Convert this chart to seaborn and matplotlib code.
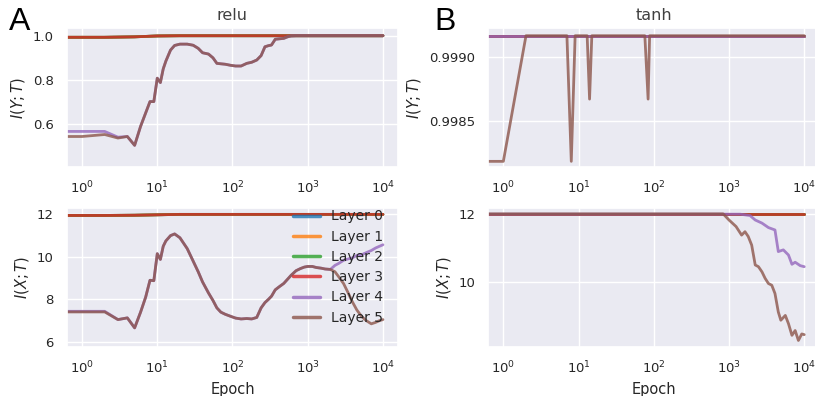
import numpy as np
import pandas as pd
import matplotlib
matplotlib.use("Agg")
import matplotlib.pyplot as plt
import seaborn as sns

# ---------------- data ----------------
LAYERS = ["Layer 0", "Layer 1", "Layer 2", "Layer 3", "Layer 4", "Layer 5"]

# relu: epochs at which layers 4/5 were measured
RELU_EPOCHS = [0, 1, 2, 3, 4, 5, 6, 7, 8, 9, 10, 11, 12, 13, 15, 17, 20, 25, 30, 35,
               40, 48, 55, 62, 70, 80, 95, 110, 130, 155, 180, 210, 240, 270, 300,
               330, 370, 420, 480, 540, 600, 700, 800, 900, 1000, 1150, 1300, 1500,
               1700, 2000, 2300, 2600, 3000, 3400, 3900, 4500, 5200, 6000, 7000,
               8000, 9000, 10000]

RELU_IYT_L5 = [0.544, 0.544, 0.553, 0.537, 0.544, 0.504, 0.59, 0.65, 0.702, 0.702,
               0.808, 0.788, 0.85, 0.885, 0.935, 0.956, 0.962, 0.962, 0.957, 0.943,
               0.923, 0.917, 0.9, 0.875, 0.873, 0.871, 0.866, 0.863, 0.863, 0.875,
               0.88, 0.89, 0.91, 0.95, 0.955, 0.958, 0.984, 0.986, 0.988, 0.995,
               0.999, 1.0, 1.0, 1.0, 1.0, 1.0, 1.0, 1.0, 1.0, 1.0, 1.0, 1.0, 1.0,
               1.0, 1.0, 1.0, 1.0, 1.0, 1.0, 1.0, 1.0, 1.0]
RELU_IYT_L4_HEAD = [0.567, 0.567, 0.567, 0.541]          # first epochs, then equals layer 5

RELU_IXT_L5 = [7.41, 7.41, 7.41, 7.05, 7.13, 6.66, 7.4, 8.1, 8.9, 8.88, 10.15, 9.88,
               10.5, 10.75, 11.0, 11.08, 10.9, 10.39, 9.8, 9.3, 8.82, 8.3, 7.95, 7.6,
               7.4, 7.3, 7.2, 7.12, 7.08, 7.1, 7.08, 7.15, 7.6, 7.85, 8.0, 8.15, 8.45,
               8.6, 8.75, 8.95, 9.13, 9.35, 9.45, 9.52, 9.55, 9.55, 9.5, 9.47, 9.43,
               9.41, 9.3, 9.05, 8.74, 8.35, 7.9, 7.5, 7.2, 7.0, 6.85, 6.92, 7.0, 7.05]
RELU_IXT_L4_HEAD = [7.44, 7.44, 7.44]
RELU_IXT_L4_TAIL = [9.6, 9.7, 9.84, 9.9, 9.95, 10.07, 10.1, 10.2, 10.3, 10.42, 10.5, 10.57]

RELU_TOP_EPOCHS = [0, 1, 2, 5, 10, 20, 10000]
RELU_IYT_TOP = [0.993, 0.993, 0.993, 0.995, 0.999, 1.0, 1.0]   # layers 0-3
RELU_IXT_TOP = [11.95, 11.95, 11.95, 11.96, 11.98, 12.0, 12.0]  # layers 0-3

# tanh
TANH_IYT_EPOCHS_L5 = [0, 1, 2, 7, 8, 9, 13, 14, 15, 76, 84, 88, 10000]
TANH_IYT_L5 = [0.998185, 0.998185, 0.999164, 0.999164, 0.998185, 0.999164, 0.999164,
               0.99867, 0.999164, 0.999164, 0.99867, 0.999164, 0.999164]
TANH_IYT_EPOCHS_FLAT = [0, 10000]
TANH_IYT_FLAT = [0.999164, 0.999164]                   # layers 0-4

TANH_IXT_EPOCHS_L5 = [0, 835, 1000, 1240, 1470, 1630, 1800, 2000, 2230, 2460, 2740,
                      3020, 3340, 3700, 4080, 4520, 4880, 5600, 6170, 6860, 7570,
                      8360, 9260, 10000]
TANH_IXT_L5 = [12.0, 12.0, 11.82, 11.63, 11.38, 11.48, 11.34, 11.09, 10.51, 10.46,
               10.31, 10.12, 9.97, 9.92, 9.68, 9.14, 8.9, 9.04, 8.8, 8.46, 8.6, 8.31,
               8.5, 8.48]
TANH_IXT_EPOCHS_L4 = [0, 1400, 1900, 2230, 2740, 3340, 4080, 4520, 5270, 6170, 6860,
                      7570, 8840, 10000]
TANH_IXT_L4 = [12.0, 11.99, 11.95, 11.82, 11.73, 11.6, 11.53, 10.9, 10.95, 10.8,
               10.53, 10.59, 10.49, 10.46]
TANH_IXT_EPOCHS_FLAT = [0, 10000]
TANH_IXT_FLAT = [12.0, 12.0]                            # layers 0-3


def frame(series):
    rows = []
    for layer, ep, val in series:
        rows.append(pd.DataFrame({"Epoch": ep, "val": val, "Layer": layer}))
    return pd.concat(rows, ignore_index=True)


relu_iyt = frame([(LAYERS[i], RELU_TOP_EPOCHS, RELU_IYT_TOP) for i in range(4)] +
                 [(LAYERS[4], RELU_EPOCHS, RELU_IYT_L4_HEAD + RELU_IYT_L5[4:]),
                  (LAYERS[5], RELU_EPOCHS, RELU_IYT_L5)])
n_tail = len(RELU_IXT_L4_TAIL)
relu_ixt = frame([(LAYERS[i], RELU_TOP_EPOCHS, RELU_IXT_TOP) for i in range(4)] +
                 [(LAYERS[4], RELU_EPOCHS,
                   RELU_IXT_L4_HEAD + RELU_IXT_L5[3:-n_tail] + RELU_IXT_L4_TAIL),
                  (LAYERS[5], RELU_EPOCHS, RELU_IXT_L5)])
tanh_iyt = frame([(LAYERS[i], TANH_IYT_EPOCHS_FLAT, TANH_IYT_FLAT) for i in range(5)] +
                 [(LAYERS[5], TANH_IYT_EPOCHS_L5, TANH_IYT_L5)])
tanh_ixt = frame([(LAYERS[i], TANH_IXT_EPOCHS_FLAT, TANH_IXT_FLAT) for i in range(4)] +
                 [(LAYERS[4], TANH_IXT_EPOCHS_L4, TANH_IXT_L4),
                  (LAYERS[5], TANH_IXT_EPOCHS_L5, TANH_IXT_L5)])

# ---------------- style ----------------
sns.set_theme(style="darkgrid")
plt.rcParams.update({
    "font.family": ["DejaVu Sans"],
    "xtick.labelsize": 9.5,
    "ytick.labelsize": 9.5,
    "axes.labelsize": 10.5,
    "axes.titlesize": 11.5,
    "legend.fontsize": 10,
    "text.color": ".15",
    "axes.labelcolor": ".15",
    "xtick.color": ".15",
    "ytick.color": ".15",
})
palette = sns.color_palette("tab10", 6)

W, H = 815, 396
fig = plt.figure(figsize=(W / 100, H / 100), dpi=100)


def make_ax(x0, x1, ytop, ybot):
    return fig.add_axes([x0 / W, 1 - ybot / H, (x1 - x0) / W, (ybot - ytop) / H])


ax_rt = make_ax(67, 398, 28, 167)
ax_rb = make_ax(67, 398, 208, 347)
ax_tt = make_ax(488.3, 819.3, 28, 167)
ax_tb = make_ax(488.3, 819.3, 208, 347)

specs = [
    (ax_rt, relu_iyt, "$I(Y;T)$", (0.406, 1.035), [0.6, 0.8, 1.0], "relu", False),
    (ax_rb, relu_ixt, "$I(X;T)$", (5.76, 12.3), [6, 8, 10, 12], None, True),
    (ax_tt, tanh_iyt, "$I(Y;T)$", (0.998141, 0.999224), [0.9985, 0.9990], "tanh", False),
    (ax_tb, tanh_ixt, "$I(X;T)$", (8.12, 12.17), [10, 12], None, True),
]

for ax, df, ylab, ylim, yt, title, bottom in specs:
    sns.lineplot(data=df, x="Epoch", y="val", hue="Layer", hue_order=LAYERS,
                 palette=palette, estimator=None, linewidth=2, alpha=0.8,
                 legend=(ax is ax_rb), ax=ax)
    ax.set_xscale("log")
    ax.set_xlim(10 ** -0.2, 10 ** 4.2)
    ax.set_xticks([1, 10, 100, 1000, 10000])
    ax.minorticks_off()
    ax.set_ylim(*ylim)
    ax.set_yticks(yt)
    if ax is ax_tt:
        ax.set_yticklabels(["0.9985", "0.9990"])
    ax.set_ylabel(ylab)
    ax.set_xlabel("Epoch" if bottom else "")
    if title:
        ax.set_title(title, color=".25")

leg = ax_rb.get_legend()
handles = leg.legend_handles
labels = [t.get_text() for t in leg.get_texts()]
leg.remove()
for h in handles:
    h.set_linewidth(2.5)
    h.set_alpha(0.8)
ax_rb.legend(handles, labels, loc="upper right", frameon=False, borderaxespad=0,
             borderpad=0.1, bbox_to_anchor=(1 - 13 / 331, 1.0), labelspacing=0.45)

fig.text(9 / W, 1 - 30 / H, "A", fontsize=23, family="Liberation Sans",
         color="black", va="baseline")
fig.text(434 / W, 1 - 30 / H, "B", fontsize=23, family="Liberation Sans",
         color="black", va="baseline")

fig.savefig("out.png", dpi=100)
